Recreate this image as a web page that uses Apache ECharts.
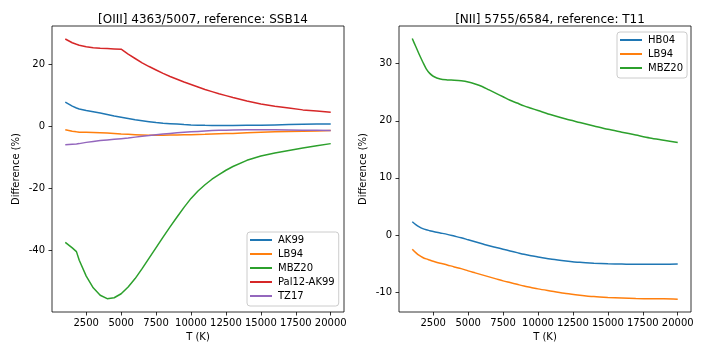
<!DOCTYPE html>
<html>
<head>
<meta charset="utf-8">
<script src="https://cdn.jsdelivr.net/npm/echarts@6/dist/echarts.min.js"></script>
<style>
html, body { margin: 0; padding: 0; background: #fff; }
#chart { width: 706px; height: 353px; }
</style>
</head>
<body>
<div id="chart"></div>
<script>
// left panel: [OIII] 4363/5007, differences against SSB14
var tempO3 = [1000, 1500, 1800, 2000, 2500, 3000, 3500, 4000, 4500, 5000,
    5500, 6000, 6500, 7000, 7500, 8000, 8500, 9000, 9500, 10000,
    10500, 11000, 11500, 12000, 12500, 13000, 14000, 15000, 16000, 17000, 18000, 19000, 20000];
var o3AK99 = [7.8, 6.5, 5.9, 5.6, 5.1, 4.7, 4.3, 3.8, 3.3, 2.9,
    2.5, 2.1, 1.8, 1.5, 1.2, 1.0, 0.85, 0.7, 0.55, 0.45,
    0.37, 0.3, 0.27, 0.25, 0.25, 0.25, 0.3, 0.35, 0.45, 0.55, 0.65, 0.7, 0.75];
var o3LB94 = [-1.1, -1.6, -1.8, -1.9, -1.9, -2.0, -2.1, -2.2, -2.35, -2.5,
    -2.6, -2.7, -2.8, -2.9, -2.9, -2.9, -2.85, -2.8, -2.75, -2.7,
    -2.65, -2.6, -2.5, -2.4, -2.35, -2.3, -2.1, -1.9, -1.8, -1.7, -1.6, -1.5, -1.4];
var o3MBZ20 = [-37.5, -39.3, -40.5, -43.3, -48.4, -52.2, -54.6, -55.7, -55.4, -54.1,
    -51.9, -49.2, -46.0, -42.6, -39.2, -35.8, -32.5, -29.3, -26.2, -23.3,
    -20.9, -18.9, -17.1, -15.6, -14.2, -13.0, -11.0, -9.6, -8.6, -7.8, -7.0, -6.3, -5.6];
var o3Pal12 = [28.2, 27.0, 26.5, 26.2, 25.7, 25.4, 25.2, 25.1, 25.0, 24.9,
    23.3, 21.9, 20.5, 19.3, 18.2, 17.1, 16.1, 15.2, 14.3, 13.5,
    12.7, 11.9, 11.2, 10.5, 9.9, 9.3, 8.2, 7.2, 6.5, 5.9, 5.3, 4.9, 4.5];
var o3TZ17 = [-6.0, -5.8, -5.7, -5.6, -5.2, -4.9, -4.6, -4.4, -4.2, -4.0,
    -3.8, -3.5, -3.2, -3.0, -2.7, -2.5, -2.3, -2.1, -1.95, -1.8,
    -1.65, -1.5, -1.4, -1.3, -1.25, -1.2, -1.1, -1.1, -1.1, -1.2, -1.3, -1.3, -1.4];

// right panel: [NII] 5755/6584, differences against T11
var tempN2 = [1000, 1250, 1500, 1750, 2000, 2250, 2500, 3000, 3500, 4000, 4500, 5000,
    5500, 6000, 6500, 7000, 7500, 8000, 8500, 9000, 9500, 10000,
    11000, 12000, 13000, 14000, 15000, 16000, 17000, 18000, 19000, 20000];
var n2HB04 = [2.3, 1.8, 1.4, 1.1, 0.9, 0.75, 0.6, 0.35, 0.1, -0.2, -0.5, -0.85,
    -1.2, -1.55, -1.9, -2.2, -2.5, -2.8, -3.1, -3.4, -3.65, -3.85,
    -4.25, -4.55, -4.8, -4.95, -5.05, -5.1, -5.15, -5.15, -5.15, -5.1];
var n2LB94 = [-2.5, -3.1, -3.6, -3.95, -4.2, -4.4, -4.6, -4.95, -5.25, -5.6, -5.9, -6.3,
    -6.65, -7.0, -7.35, -7.7, -8.05, -8.35, -8.65, -8.95, -9.2, -9.45,
    -9.85, -10.25, -10.55, -10.8, -10.95, -11.05, -11.15, -11.2, -11.2, -11.25];
var n2MBZ20 = [34.4, 33.0, 31.6, 30.3, 29.1, 28.3, 27.8, 27.3, 27.15, 27.1, 27.0, 26.8,
    26.45, 26.0, 25.4, 24.8, 24.2, 23.6, 23.1, 22.6, 22.2, 21.8,
    21.0, 20.3, 19.7, 19.1, 18.5, 18.0, 17.5, 17.0, 16.6, 16.2];

var FONT = 'DejaVu Sans';
var C = {blue: '#1f77b4', orange: '#ff7f0e', green: '#2ca02c', red: '#d62728', purple: '#9467bd'};

function pairs(xs, ys) {
    var out = [];
    for (var i = 0; i < xs.length; i++) {
        out.push([xs[i], ys[i]]);
    }
    return out;
}

function line(name, idx, xs, ys, color, smooth) {
    return {
        name: name,
        type: 'line',
        xAxisIndex: idx,
        yAxisIndex: idx,
        data: pairs(xs, ys),
        smooth: smooth || false,
        showSymbol: false,
        symbol: 'none',
        animation: false,
        color: color,
        lineStyle: {width: 1.5, color: color}
    };
}

// plain numbers, no thousands separator (matplotlib style)
function plain(v) {
    return String(v);
}

function xAxisOf(idx) {
    return {
        type: 'value',
        gridIndex: idx,
        min: 50,
        max: 20950,
        minInterval: 2500,
        maxInterval: 2500,
        name: 'T (K)',
        nameLocation: 'middle',
        nameGap: 18,
        nameTextStyle: {fontFamily: FONT, fontSize: 10, color: '#000'},
        axisLine: {show: false, onZero: false},
        axisTick: {show: true, length: 3.5, lineStyle: {color: '#000', width: 0.8}},
        axisLabel: {showMinLabel: false, showMaxLabel: false, margin: 6, formatter: plain,
            fontFamily: FONT, fontSize: 10, color: '#000'},
        splitLine: {show: false}
    };
}

function yAxisOf(idx, min, max, step) {
    return {
        type: 'value',
        gridIndex: idx,
        min: min,
        max: max,
        minInterval: step,
        maxInterval: step,
        name: 'Difference (%)',
        nameLocation: 'middle',
        nameRotate: 90,
        nameGap: 31,
        nameTextStyle: {fontFamily: FONT, fontSize: 10, color: '#000'},
        axisLine: {show: false, onZero: false},
        axisTick: {show: true, length: 3.5, lineStyle: {color: '#000', width: 0.8}},
        axisLabel: {showMinLabel: false, showMaxLabel: false, margin: 7, formatter: plain,
            fontFamily: FONT, fontSize: 10, color: '#000'},
        splitLine: {show: false}
    };
}

function legendOf(names, left, top) {
    return {
        orient: 'vertical',
        left: left,
        top: top,
        data: names,
        icon: 'rect',
        itemWidth: 22,
        itemHeight: 2,
        itemGap: 2,
        padding: [2, 4, 4, 3],
        backgroundColor: 'rgba(255,255,255,0.8)',
        borderColor: '#cccccc',
        borderWidth: 1,
        borderRadius: 3,
        selectedMode: false,
        textStyle: {fontFamily: FONT, fontSize: 10, color: '#000', lineHeight: 12, padding: [0, 0, 0, 1]}
    };
}

var chart = echarts.init(document.getElementById('chart'), null, {renderer: 'canvas'});

var option = {
    backgroundColor: '#fff',
    animation: false,
    title: [
        {text: '[OIII] 4363/5007, reference: SSB14', left: 198, top: 9, textAlign: 'center',
            textStyle: {fontFamily: FONT, fontSize: 12, fontWeight: 'normal', color: '#000'}},
        {text: '[NII] 5755/6584, reference: T11', left: 545, top: 9, textAlign: 'center',
            textStyle: {fontFamily: FONT, fontSize: 12, fontWeight: 'normal', color: '#000'}}
    ],
    grid: [
        {left: 52, right: 362, top: 26, bottom: 41, show: true, borderColor: '#000', borderWidth: 0.8, backgroundColor: 'transparent'},
        {left: 399, right: 15, top: 26, bottom: 41, show: true, borderColor: '#000', borderWidth: 0.8, backgroundColor: 'transparent'}
    ],
    xAxis: [xAxisOf(0), xAxisOf(1)],
    yAxis: [yAxisOf(0, -60, 32.4, 20), yAxisOf(1, -13.5, 36.6, 10)],
    legend: [
        legendOf(['AK99', 'LB94', 'MBZ20', 'Pal12-AK99', 'TZ17'], 247, 232),
        legendOf(['HB04', 'LB94', 'MBZ20'], 617, 32)
    ],
    series: [
        line('AK99', 0, tempO3, o3AK99, C.blue),
        line('LB94', 0, tempO3, o3LB94, C.orange),
        line('MBZ20', 0, tempO3, o3MBZ20, C.green),
        line('Pal12-AK99', 0, tempO3, o3Pal12, C.red),
        line('TZ17', 0, tempO3, o3TZ17, C.purple),
        line('HB04', 1, tempN2, n2HB04, C.blue, 0.3),
        line('LB94', 1, tempN2, n2LB94, C.orange, 0.3),
        line('MBZ20', 1, tempN2, n2MBZ20, C.green, 0.3)
    ]
};

chart.setOption(option);
</script>
</body>
</html>
